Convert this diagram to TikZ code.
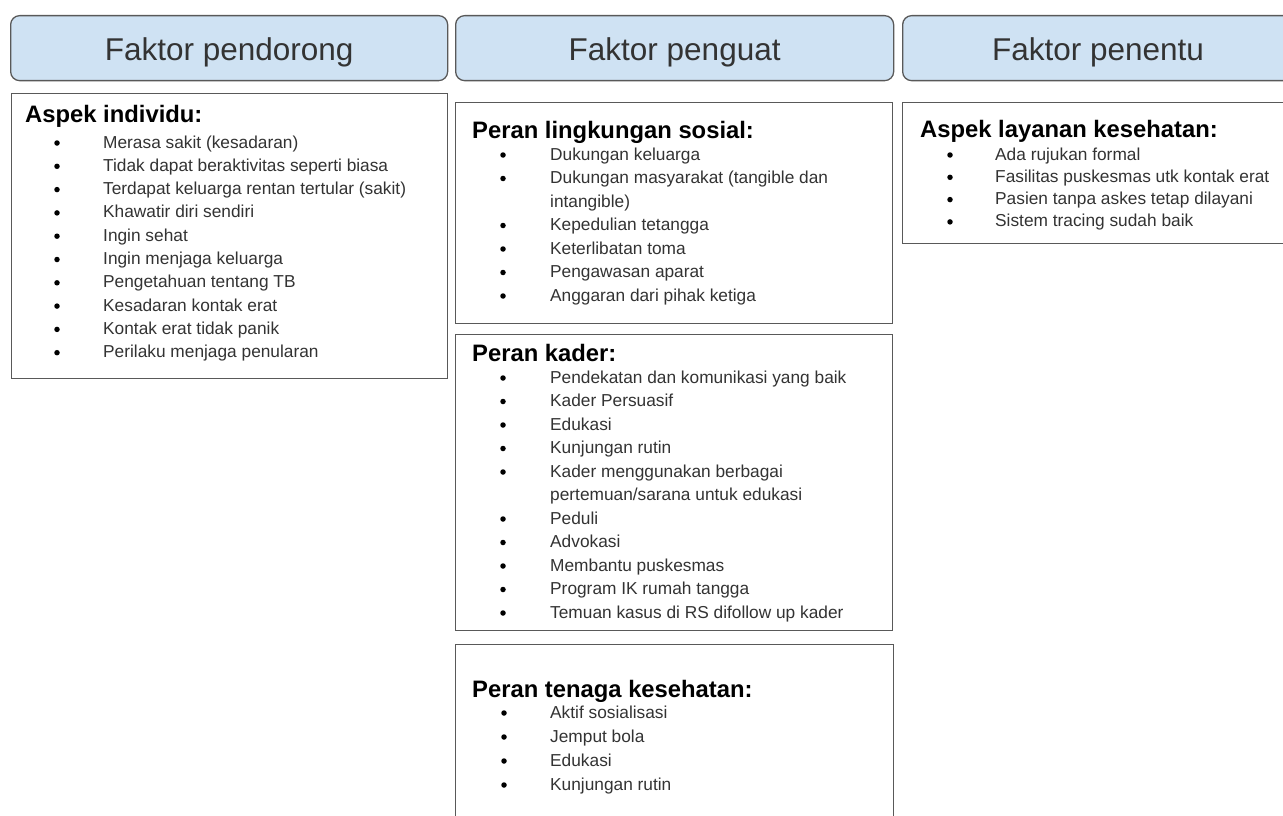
\documentclass[tikz,border=0pt]{standalone}
\usepackage{fontspec}
\setmainfont{Liberation Sans}
\definecolor{hdrfill}{HTML}{CFE2F3}
\definecolor{edgecol}{HTML}{595959}
\definecolor{itemtxt}{HTML}{333333}
\tikzset{
  header/.style={draw=edgecol, line width=1.3pt, fill=hdrfill, rounded corners=9pt, anchor=north west, minimum height=65pt, inner sep=0},
  panel/.style={draw=edgecol, line width=1.3pt, fill=white, anchor=north west, inner sep=0},
  hdrtext/.style={anchor=base, font=\fontsize{31.5}{36}\selectfont, text=black!80, inner sep=0},
  ttl/.style={anchor=base west, font=\fontsize{23.8}{28}\selectfont\bfseries, inner sep=0},
  itm/.style={anchor=base west, font=\fontsize{17.3}{20}\selectfont, text=itemtxt, inner sep=0},
  bul/.style={circle, fill=black, inner sep=0, minimum size=5.5pt},
}
\begin{document}
\begin{tikzpicture}[x=1pt,y=-1pt]
\useasboundingbox (0,0) rectangle (1283,816);
\clip (0,0) rectangle (1283,816);
\fill[white] (0,0) rectangle (1283,816);

% headers
\node[header, minimum width=437pt] (h1) at (10,15) {};
\node[header, minimum width=438pt] (h2) at (455,15) {};
\node[header, minimum width=410pt] (h3) at (902,15) {};
\node[hdrtext] (h1t) at (h1.center |- 0,60) {Faktor pendorong};
\node[hdrtext] (h2t) at (h2.center |- 0,60) {Faktor penguat};
\node[hdrtext] (h3t) at (1098,60) {Faktor penentu};

% panels
\node[panel, minimum width=436pt, minimum height=285pt] (p1) at (11,93) {};
\node[panel, minimum width=437pt, minimum height=221pt] (p2) at (455,102) {};
\node[panel, minimum width=437pt, minimum height=296pt] (p3) at (455,334) {};
\node[panel, minimum width=438pt, minimum height=200pt] (p4) at (455,644) {};
\node[panel, minimum width=420pt, minimum height=141pt] (p5) at (902,102) {};

% panel 1
\node[ttl] (p1t) at (25,122.5) {Aspek individu:};
\foreach \t [count=\i] in {Merasa sakit (kesadaran), Tidak dapat beraktivitas seperti biasa, Terdapat keluarga rentan tertular (sakit), Khawatir diri sendiri, Ingin sehat, Ingin menjaga keluarga, Pengetahuan tentang TB, Kesadaran kontak erat, Kontak erat tidak panik, Perilaku menjaga penularan}{
  \node[bul] (b1-\i) at ({57},{143+23.3*(\i-1)}) {};
  \node[itm] (t1-\i) at ({103},{148+23.3*(\i-1)}) {\t};
}

% panel 2
\node[ttl] (p2t) at (472,138) {Peran lingkungan sosial:};
\node[bul] (b2-1) at (503,155) {};
\node[itm] (t2-1) at (550,160) {Dukungan keluarga};
\node[bul] (b2-2) at (503,178.5) {};
\node[itm] (t2-2) at (550,183.5) {Dukungan masyarakat (tangible dan};
\node[itm] (t2-2b) at (550,207) {intangible)};
\node[bul] (b2-3) at (503,225.5) {};
\node[itm] (t2-3) at (550,230.5) {Kepedulian tetangga};
\node[bul] (b2-4) at (503,249) {};
\node[itm] (t2-4) at (550,254) {Keterlibatan toma};
\node[bul] (b2-5) at (503,272.5) {};
\node[itm] (t2-5) at (550,277.5) {Pengawasan aparat};
\node[bul] (b2-6) at (503,296) {};
\node[itm] (t2-6) at (550,301) {Anggaran dari pihak ketiga};

% panel 3
\node[ttl] (p3t) at (472,361) {Peran kader:};
\node[bul] (b3-1) at (503,378) {};
\node[itm] (t3-1) at (550,383) {Pendekatan dan komunikasi yang baik};
\node[bul] (b3-2) at (503,401.5) {};
\node[itm] (t3-2) at (550,406.5) {Kader Persuasif};
\node[bul] (b3-3) at (503,425) {};
\node[itm] (t3-3) at (550,430) {Edukasi};
\node[bul] (b3-4) at (503,448.5) {};
\node[itm] (t3-4) at (550,453.5) {Kunjungan rutin};
\node[bul] (b3-5) at (503,472) {};
\node[itm] (t3-5) at (550,477) {Kader menggunakan berbagai};
\node[itm] (t3-5b) at (550,500.5) {pertemuan/sarana untuk edukasi};
\node[bul] (b3-6) at (503,519) {};
\node[itm] (t3-6) at (550,524) {Peduli};
\node[bul] (b3-7) at (503,542.5) {};
\node[itm] (t3-7) at (550,547.5) {Advokasi};
\node[bul] (b3-8) at (503,566) {};
\node[itm] (t3-8) at (550,571) {Membantu puskesmas};
\node[bul] (b3-9) at (503,589.5) {};
\node[itm] (t3-9) at (550,594.5) {Program IK rumah tangga};
\node[bul] (b3-10) at (503,613) {};
\node[itm] (t3-10) at (550,618) {Temuan kasus di RS difollow up kader};

% panel 4
\node[ttl] (p4t) at (472,697) {Peran tenaga kesehatan:};
\foreach \t [count=\i] in {Aktif sosialisasi, Jemput bola, Edukasi, Kunjungan rutin}{
  \node[bul] (b4-\i) at ({504},{713+24*(\i-1)}) {};
  \node[itm] (t4-\i) at ({550},{718+24*(\i-1)}) {\t};
}

% panel 5
\node[ttl] (p5t) at (920,137) {Aspek layanan kesehatan:};
\foreach \t [count=\i] in {Ada rujukan formal, Fasilitas puskesmas utk kontak erat, Pasien tanpa askes tetap dilayani, Sistem tracing sudah baik}{
  \node[bul] (b5-\i) at ({950},{155+22.3*(\i-1)}) {};
  \node[itm] (t5-\i) at ({995},{160+22.3*(\i-1)}) {\t};
}
\end{tikzpicture}
\end{document}
